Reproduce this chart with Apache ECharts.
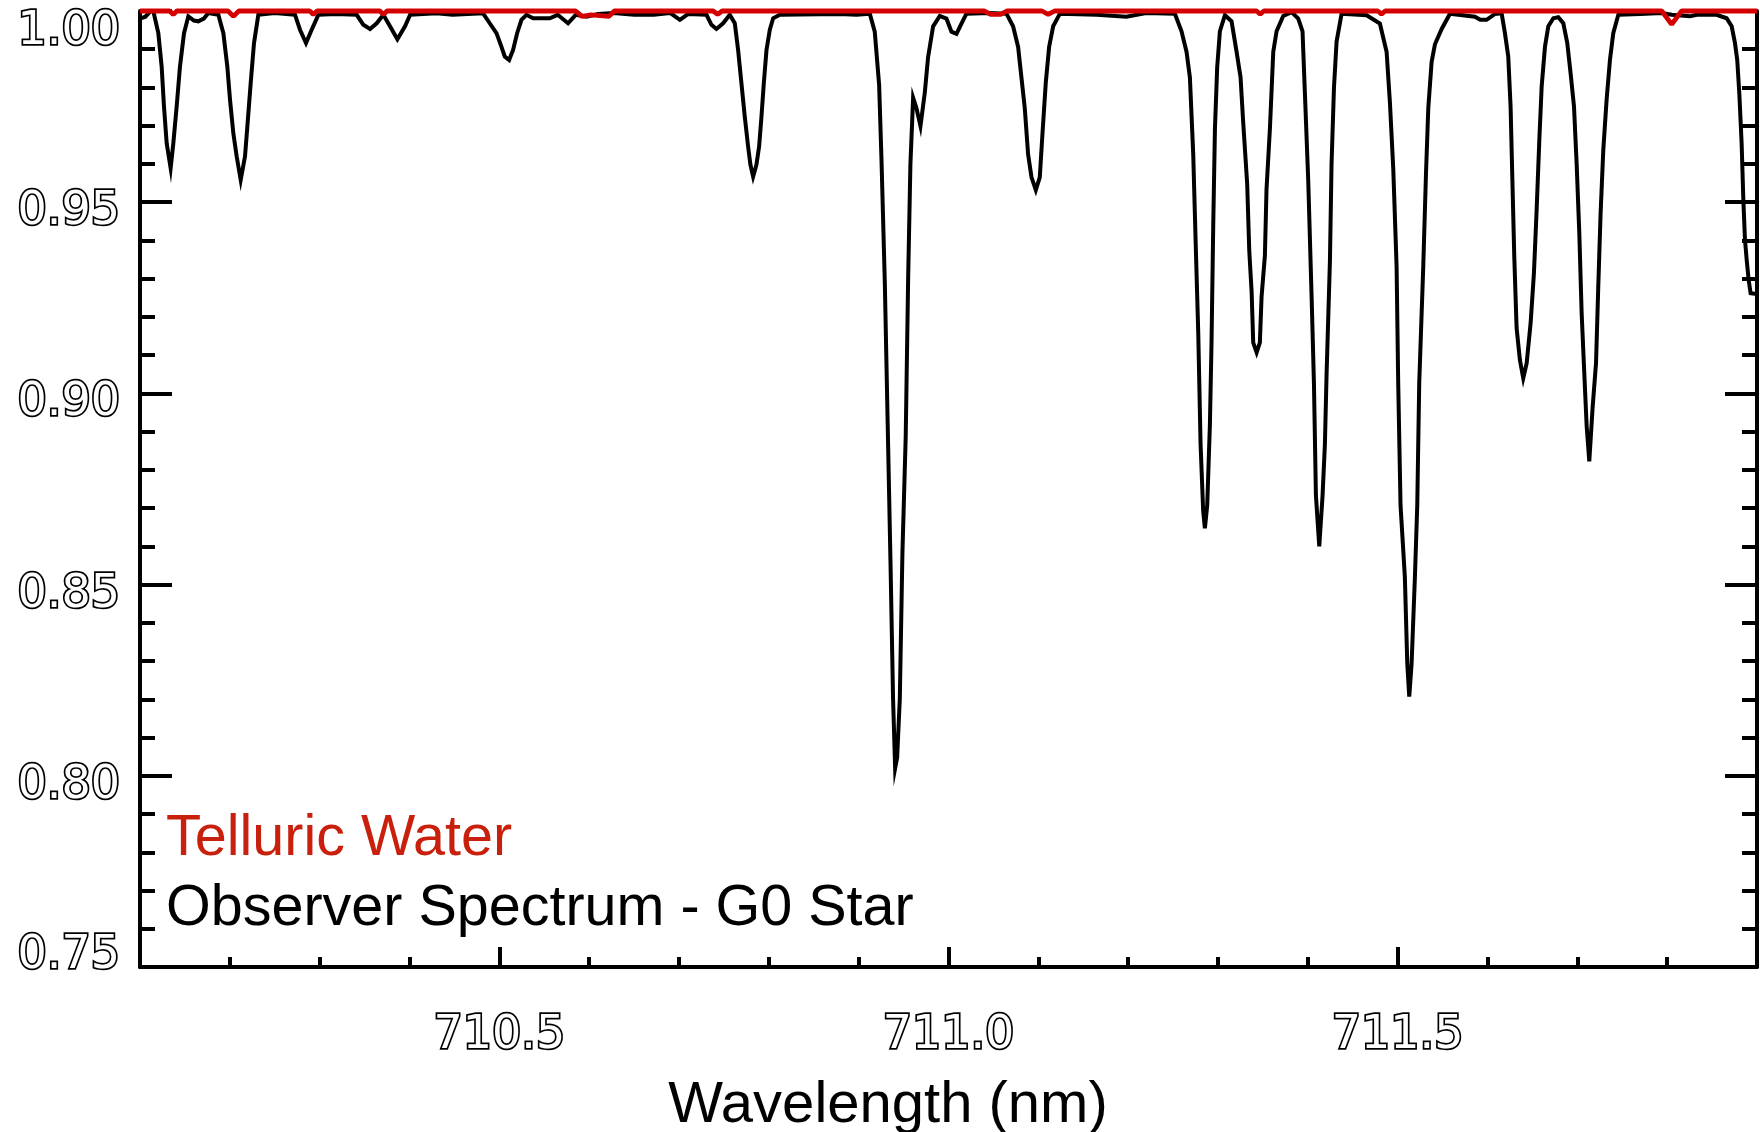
<!DOCTYPE html>
<html><head><meta charset="utf-8">
<script src="https://cdn.jsdelivr.net/npm/echarts@6/dist/echarts.min.js"></script>
<style>html,body{margin:0;padding:0;background:#fff}#c{width:1760px;height:1132px}</style>
</head><body><div id="c"></div>
<script>
// Observed spectrum (G0 star): wavelength (nm) and normalised flux
const obsWavelength = [
  710.100, 710.106, 710.112, 710.1148, 710.1204, 710.1241, 710.1267, 710.1297, 710.1341, 710.1371,
  710.1408, 710.1445, 710.1490, 710.1538, 710.1600, 710.1649, 710.1710, 710.1761, 710.1872, 710.1928,
  710.1972, 710.2002, 710.2039, 710.2076, 710.2121, 710.2169, 710.2195, 710.2232, 710.2269, 710.2317,
  710.2500, 710.2726, 710.2781, 710.2848, 710.2911, 710.2985, 710.3180, 710.3412, 710.3486, 710.3561,
  710.3635, 710.3709, 710.3783, 710.3865, 710.3950, 710.4006, 710.4300, 710.4480, 710.4819, 710.4893,
  710.4968, 710.5023, 710.5060, 710.5109, 710.5153, 710.5198, 710.5246, 710.5302, 710.5376, 710.5561,
  710.5650, 710.5765, 710.5850, 710.5970, 710.6100, 710.6270, 710.6500, 710.6720, 710.6900, 710.7010,
  710.7100, 710.7306, 710.7361, 710.7417, 710.7491, 710.7565, 710.7621, 710.7658, 710.7695, 710.7732,
  710.7769, 710.7795, 710.7825, 710.7862, 710.7892, 710.7918, 710.7944, 710.7974, 710.8011, 710.8048,
  710.8122, 710.8790, 710.8975, 710.9124, 710.9179, 710.9228, 710.9254, 710.9291, 710.9328, 710.9354,
  710.9383, 710.9406, 710.9428, 710.9458, 710.9487, 710.9524, 710.9551, 710.9576, 710.9606, 710.9643,
  710.9688, 710.9736, 710.9773, 710.9829, 710.9903, 710.9977, 711.0033, 711.0089, 711.0144, 711.0200,
  711.0450, 711.0645, 711.0719, 711.0775, 711.0812, 711.0849, 711.0886, 711.0924, 711.0972, 711.1016,
  711.1046, 711.1083, 711.1120, 711.1165, 711.1240, 711.1650, 711.1980, 711.2200, 711.2520, 711.2594,
  711.2650, 711.2687, 711.2724, 711.2754, 711.2780, 711.2806, 711.2835, 711.2854, 711.2880, 711.2910,
  711.2928, 711.2947, 711.2966, 711.2991, 711.3021, 711.3077, 711.3151, 711.3207, 711.3251, 711.3281,
  711.3325, 711.3348, 711.3374, 711.3392, 711.3430, 711.3466, 711.3485, 711.3522, 711.3540, 711.3578,
  711.3615, 711.3652, 711.3726, 711.3819, 711.3893, 711.3941, 711.3967, 711.4004, 711.4042, 711.4068,
  711.4090, 711.4127, 711.4164, 711.4190, 711.4209, 711.4246, 711.4264, 711.4291, 711.4320, 711.4376,
  711.4654, 711.4802, 711.4877, 711.4914, 711.4951, 711.4988, 711.5006, 711.5032, 711.5080, 711.5107,
  711.5129, 711.5155, 711.5192, 711.5218, 711.5240, 711.5285, 711.5315, 711.5341, 711.5378, 711.5415,
  711.5490, 711.5582, 711.5860, 711.5920, 711.5990, 711.6080, 711.6157, 711.6194, 711.6231, 711.6257,
  711.6276, 711.6298, 711.6324, 711.6361, 711.6398, 711.6436, 711.6480, 711.6517, 711.6547, 711.6577,
  711.6603, 711.6640, 711.6677, 711.6733, 711.6788, 711.6844, 711.6888, 711.6925, 711.6963, 711.6992,
  711.7022, 711.7048, 711.7074, 711.7104, 711.7133, 711.7171, 711.7208, 711.7233, 711.7259, 711.7289,
  711.7326, 711.7363, 711.7400, 711.7456, 711.7700, 711.7939, 711.8050, 711.8254, 711.8330, 711.8551,
  711.8662, 711.8718, 711.8755, 711.8780, 711.8803, 711.8829, 711.8848, 711.8866, 711.8885, 711.8907,
  711.8929, 711.9000
];
const obsFlux = [
  0.9980, 0.9985, 1.0000, 1.0000, 0.9942, 0.9855, 0.9750, 0.9654, 0.9589, 0.9654,
  0.9750, 0.9855, 0.9942, 0.9986, 0.9975, 0.9973, 0.9980, 0.9995, 0.9990, 0.9942,
  0.9855, 0.9768, 0.9680, 0.9620, 0.9558, 0.9620, 0.9698, 0.9811, 0.9916, 0.9990,
  0.9995, 0.9990, 0.9951, 0.9916, 0.9951, 0.9990, 0.9992, 0.9990, 0.9964, 0.9953,
  0.9968, 0.9990, 0.9960, 0.9926, 0.9960, 0.9990, 0.9994, 0.9990, 0.9994, 0.9968,
  0.9942, 0.9907, 0.9881, 0.9872, 0.9898, 0.9942, 0.9977, 0.9990, 0.9981, 0.9981,
  0.9990, 0.9968, 0.9990, 0.9985, 0.9992, 0.9995, 0.9990, 0.9990, 0.9995, 0.9977,
  0.9992, 0.9990, 0.9964, 0.9953, 0.9968, 0.9990, 0.9968, 0.9898, 0.9811, 0.9724,
  0.9646, 0.9598, 0.9567, 0.9598, 0.9646, 0.9724, 0.9811, 0.9898, 0.9951, 0.9981,
  0.9990, 0.9992, 0.9990, 0.9993, 0.9946, 0.9806, 0.9612, 0.9291, 0.8863, 0.8562,
  0.8201, 0.8020, 0.8047, 0.8201, 0.8582, 0.8890, 0.9304, 0.9599, 0.9773, 0.9746,
  0.9699, 0.9786, 0.9880, 0.9960, 0.9987, 0.9980, 0.9946, 0.9940, 0.9967, 0.9993,
  0.9995, 0.9993, 0.9960, 0.9906, 0.9826, 0.9746, 0.9625, 0.9565, 0.9532, 0.9565,
  0.9679, 0.9813, 0.9906, 0.9960, 0.9993, 0.9990, 0.9985, 0.9995, 0.9993, 0.9947,
  0.9893, 0.9827, 0.9627, 0.9373, 0.9160, 0.8867, 0.8693, 0.8647, 0.8707, 0.8920,
  0.9133, 0.9440, 0.9693, 0.9853, 0.9947, 0.9989, 0.9973, 0.9893, 0.9827, 0.9707,
  0.9547, 0.9373, 0.9267, 0.9133, 0.9107, 0.9133, 0.9253, 0.9360, 0.9533, 0.9693,
  0.9893, 0.9947, 0.9987, 0.9997, 0.9980, 0.9947, 0.9787, 0.9560, 0.9253, 0.9027,
  0.8733, 0.8600, 0.8733, 0.8867, 0.9053, 0.9347, 0.9600, 0.9800, 0.9920, 0.9993,
  0.9989, 0.9967, 0.9893, 0.9760, 0.9587, 0.9333, 0.9027, 0.8707, 0.8520, 0.8293,
  0.8207, 0.8293, 0.8520, 0.8707, 0.9027, 0.9333, 0.9573, 0.9747, 0.9867, 0.9913,
  0.9953, 0.9993, 0.9985, 0.9977, 0.9977, 0.9992, 0.9994, 0.9942, 0.9881, 0.9750,
  0.9567, 0.9358, 0.9171, 0.9087, 0.9040, 0.9079, 0.9184, 0.9315, 0.9480, 0.9663,
  0.9803, 0.9907, 0.9960, 0.9981, 0.9984, 0.9968, 0.9916, 0.9837, 0.9750, 0.9602,
  0.9419, 0.9210, 0.9071, 0.8914, 0.8822, 0.8966, 0.9079, 0.9279, 0.9471, 0.9637,
  0.9768, 0.9872, 0.9942, 0.9990, 0.9992, 0.9995, 0.9990, 0.9986, 0.9990, 0.9990,
  0.9981, 0.9960, 0.9916, 0.9872, 0.9785, 0.9654, 0.9506, 0.9402, 0.9350, 0.9297,
  0.9262, 0.9260
];
// Telluric water model
const tellWavelength = [
  710.100, 710.133, 710.137, 710.141, 710.198, 710.204, 710.210, 710.289, 710.293, 710.297,
  710.367, 710.371, 710.375, 710.585, 710.592, 710.602, 710.612, 710.622, 710.628, 710.738,
  710.743, 710.748, 711.040, 711.047, 711.058, 711.065, 711.104, 711.111, 711.118, 711.343,
  711.347, 711.351, 711.478, 711.482, 711.486, 711.794, 711.805, 711.816, 711.900
];
const tellFlux = [
  1.0000, 1.0000, 0.9991, 1.0000, 1.0000, 0.9986, 1.0000, 1.0000, 0.9991, 1.0000,
  1.0000, 0.9991, 1.0000, 1.0000, 0.9986, 0.9990, 0.9988, 0.9986, 1.0000, 1.0000,
  0.9991, 1.0000, 1.0000, 0.9991, 0.9991, 1.0000, 1.0000, 0.9991, 1.0000, 1.0000,
  0.9992, 1.0000, 1.0000, 0.9992, 1.0000, 1.0000, 0.9965, 1.0000, 1.0000
];
const xMajorTicks = [710.5, 711.0, 711.5];
const xMinorTicks = [710.2, 710.3, 710.4, 710.6, 710.7, 710.8, 710.9, 711.1, 711.2, 711.3, 711.4, 711.6, 711.7, 711.8];
const yMajorTicks = [0.75, 0.80, 0.85, 0.90, 0.95, 1.00];
const seriesNames = ['Observer Spectrum - G0 Star', 'Telluric Water'];
const xAxisTitle = 'Wavelength (nm)';

const chart = echarts.init(document.getElementById('c'), null, {renderer: 'canvas'});
const hollow = {
  color: '#ffffff', textBorderColor: '#000000', textBorderWidth: 3.4,
  fontFamily: 'DejaVu Sans', fontSize: 46
};
const axisLineStyle = {color: '#000', width: 4};
const xMin = 710.1, xMax = 711.9, yMin = 0.75, yMax = 1.0;
const yLabelRich = {
  top: Object.assign({padding: [42, 0, 0, 0]}, hollow),
  mid: Object.assign({padding: [20, 0, 0, 0]}, hollow),
  bot: Object.assign({padding: [0, 0, 22, 0]}, hollow)
};

chart.setOption({
  animation: false,
  backgroundColor: '#ffffff',
  grid: {left: 140, right: 3, top: 11, bottom: 165},
  xAxis: [
    {
      type: 'value', min: xMin, max: xMax, position: 'bottom',
      axisLine: {show: true, lineStyle: axisLineStyle},
      axisTick: {show: true, inside: true, length: 20, customValues: xMajorTicks, lineStyle: {color: '#000', width: 4}},
      axisLabel: Object.assign({customValues: xMajorTicks, margin: 46, formatter: v => v.toFixed(1)}, hollow),
      splitLine: {show: false}
    },
    {
      type: 'value', min: xMin, max: xMax, position: 'bottom', offset: 0,
      axisLine: {show: false},
      axisTick: {show: true, inside: true, length: 10, customValues: xMinorTicks, lineStyle: {color: '#000', width: 4}},
      axisLabel: {show: false},
      splitLine: {show: false}
    }
  ],
  yAxis: [
    {
      type: 'value', min: yMin, max: yMax, interval: 0.05, position: 'left',
      axisLine: {show: true, lineStyle: axisLineStyle},
      axisTick: {show: true, inside: true, length: 32, lineStyle: {color: '#000', width: 4}},
      minorTick: {show: true, splitNumber: 5, length: 15, lineStyle: {color: '#000', width: 4}},
      axisLabel: {
        margin: 20, verticalAlign: 'middle',
        formatter: v => {
          const s = v.toFixed(2);
          if (Math.abs(v - yMax) < 1e-9) return '{top|' + s + '}';
          if (Math.abs(v - yMin) < 1e-9) return '{bot|' + s + '}';
          return '{mid|' + s + '}';
        },
        rich: yLabelRich
      },
      splitLine: {show: false}, minorSplitLine: {show: false}
    },
    {
      type: 'value', min: yMin, max: yMax, interval: 0.05, position: 'right',
      axisLine: {show: true, lineStyle: axisLineStyle},
      axisTick: {show: true, inside: true, length: 32, lineStyle: {color: '#000', width: 4}},
      minorTick: {show: true, splitNumber: 5, length: 15, lineStyle: {color: '#000', width: 4}},
      axisLabel: {show: false},
      splitLine: {show: false}, minorSplitLine: {show: false}
    }
  ],
  series: [
    {
      name: seriesNames[0], type: 'line', xAxisIndex: 0, yAxisIndex: 0,
      data: obsWavelength.map((w, i) => [w, obsFlux[i]]),
      showSymbol: false, symbol: 'none', clip: false,
      lineStyle: {color: '#000000', width: 4, join: 'miter'}, z: 3
    },
    {
      name: seriesNames[1], type: 'line', xAxisIndex: 0, yAxisIndex: 0,
      data: tellWavelength.map((w, i) => [w, tellFlux[i]]),
      showSymbol: false, symbol: 'none', clip: false,
      lineStyle: {color: '#d40000', width: 4.8}, z: 4
    }
  ],
  graphic: [
    {type: 'text', z: 10, style: {text: seriesNames[1], x: 166, y: 839, align: 'left', verticalAlign: 'middle',
      font: '57.5px "Liberation Sans", Arial, sans-serif', fill: '#c8200c'}},
    {type: 'text', z: 10, style: {text: seriesNames[0], x: 166, y: 909, align: 'left', verticalAlign: 'middle',
      font: '57.5px "Liberation Sans", Arial, sans-serif', fill: '#000000'}},
    {type: 'text', z: 10, style: {text: xAxisTitle, x: 888, y: 1106, align: 'center', verticalAlign: 'middle',
      font: '58px "Liberation Sans", Arial, sans-serif', fill: '#000000'}}
  ]
});
</script>
</body></html>
